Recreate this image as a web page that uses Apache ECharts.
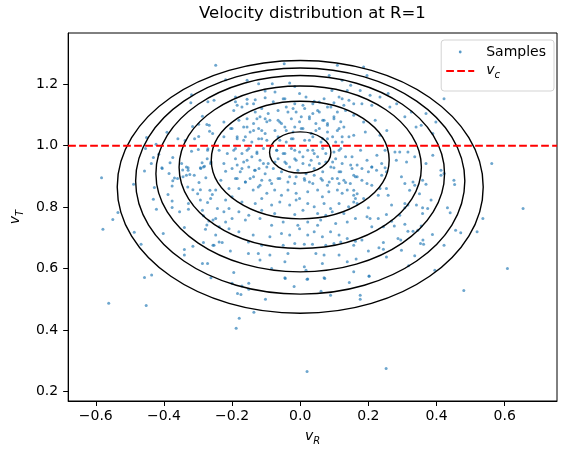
<!DOCTYPE html>
<html>
<head>
<meta charset="utf-8">
<script src="https://cdn.jsdelivr.net/npm/echarts@6/dist/echarts.min.js"></script>
<style>
html,body{margin:0;padding:0;background:#fff;}
#chart{width:567px;height:455px;}
</style>
</head>
<body>
<div id="chart"></div>
<script>
// ---- data ----
const titleText = 'Velocity distribution at R=1';
const xRange = [-0.681, 0.7535];
const yRange = [0.169, 1.367];
const xTicks = [-0.6, -0.4, -0.2, 0.0, 0.2, 0.4, 0.6];
const yTicks = [0.2, 0.4, 0.6, 0.8, 1.0, 1.2];
const circularVelocity = 1.0;

// contour levels approximated as ellipses: centre vR, centre vT, half-width, half-height
const contourCentreVR = [0, 0, 0, 0, 0, 0];
const contourCentreVT = [0.978, 0.9535, 0.930, 0.909, 0.885, 0.866];
const contourHalfWidth = [0.090, 0.261, 0.3555, 0.4235, 0.483, 0.537];
const contourHalfHeight = [0.067, 0.1915, 0.2645, 0.3195, 0.368, 0.4115];

// sample points [vR, vT]
const samples = [
[-0.319,1.166],[-0.321,1.140],[-0.271,1.143],[-0.287,1.096],[-0.274,1.069],[-0.316,1.063],[-0.266,1.047],[-0.298,1.070],
[-0.391,1.044],[-0.451,1.027],[-0.359,1.023],[-0.338,1.017],[-0.310,1.023],[-0.298,1.030],[-0.423,1.005],[-0.454,0.991],
[-0.319,0.982],[-0.299,0.988],[-0.271,0.990],[-0.415,0.972],[-0.431,0.962],[-0.374,0.962],[-0.382,0.945],[-0.437,0.942],
[-0.406,0.928],[-0.348,0.942],[-0.329,0.928],[-0.288,0.945],[-0.273,0.958],[-0.281,0.933],[-0.263,0.942],[-0.292,0.926],
[-0.248,1.262],[-0.047,1.267],[0.109,1.262],[-0.156,1.213],[-0.219,1.215],[-0.082,1.202],[-0.031,1.204],[-0.016,1.193],
[0.085,1.229],[0.093,1.180],[0.123,1.213],[0.138,1.180],[-0.122,1.202],[-0.190,1.159],[-0.253,1.148],[-0.074,1.175],
[-0.103,1.178],[-0.002,1.170],[-0.045,1.153],[0.037,1.137],[0.056,1.142],[0.114,1.159],[0.143,1.148],[-0.156,1.137],
[-0.132,1.150],[-0.185,1.132],[-0.021,1.121],[-0.036,1.110],[0.008,1.132],[0.056,1.110],[0.090,1.126],[0.133,1.115],
[-0.127,1.088],[-0.103,1.088],[-0.089,1.083],[-0.060,1.077],[0.003,1.094],[0.027,1.094],[0.066,1.083],[0.080,1.072],
[0.099,1.088],[0.114,1.056],[-0.224,1.077],[-0.204,1.056],[-0.156,1.061],[-0.137,1.050],[-0.113,1.050],[-0.041,1.050],
[-0.016,1.061],[0.008,1.056],[0.046,1.050],[-0.267,1.067],[-0.257,1.040],[-0.224,1.029],[-0.185,1.029],[-0.166,1.018],
[-0.113,1.023],[-0.060,1.018],[-0.026,1.023],[0.027,1.018],[0.066,1.023],[0.095,1.029],[0.123,1.012],[0.143,1.029],
[-0.272,0.985],[-0.238,0.985],[-0.214,0.975],[-0.190,0.991],[-0.156,0.985],[-0.127,0.975],[-0.069,0.985],[-0.045,0.975],
[-0.016,0.985],[0.008,0.964],[0.037,0.985],[0.075,0.975],[0.114,0.985],[0.133,0.964],[-0.262,0.947],[-0.224,0.942],
[-0.185,0.937],[-0.156,0.953],[-0.108,0.942],[-0.074,0.947],[-0.041,0.942],[-0.012,0.953],[0.027,0.937],[0.056,0.942],
[0.095,0.947],[0.148,0.937],
[0.186,1.256],[0.196,1.229],[0.148,1.197],[0.176,1.180],[0.205,1.164],[0.234,1.159],[0.258,1.170],[0.157,1.137],
[0.181,1.137],[0.210,1.132],[0.263,1.126],[0.283,1.137],[0.307,1.094],[0.326,1.110],[0.422,1.153],[0.157,1.099],
[0.186,1.077],[0.220,1.083],[0.254,1.050],[0.355,1.067],[0.369,1.105],[0.340,1.061],[0.398,1.077],[0.157,1.034],
[0.191,1.045],[0.234,1.034],[0.389,1.040],[0.278,0.980],[0.292,0.980],[0.316,0.980],[0.336,0.964],[0.389,0.969],
[0.369,0.942],[0.312,0.947],[0.282,0.953],[0.562,0.942],[0.152,0.964],[0.177,0.985],[0.196,0.953],[0.225,0.969],
[0.239,0.942],[0.167,0.937],[0.210,0.931],[0.249,0.985],
[-0.583,0.896],[-0.457,0.918],[-0.405,0.926],[-0.489,0.875],[-0.428,0.864],[-0.431,0.826],[-0.422,0.793],[-0.535,0.783],
[-0.550,0.760],[-0.579,0.728],[-0.487,0.718],[-0.467,0.679],[-0.402,0.714],[-0.457,0.571],[-0.436,0.579],[-0.385,0.910],
[-0.369,0.895],[-0.374,0.886],[-0.360,0.893],[-0.344,0.899],[-0.376,0.869],[-0.388,0.841],[-0.376,0.820],[-0.376,0.799],
[-0.354,0.785],[-0.345,0.921],[-0.334,0.931],[-0.329,0.920],[-0.334,0.904],[-0.324,0.906],[-0.311,0.904],[-0.293,0.928],
[-0.284,0.931],[-0.277,0.896],[-0.297,0.880],[-0.330,0.866],[-0.315,0.857],[-0.293,0.857],[-0.301,0.844],[-0.265,0.855],
[-0.293,0.823],[-0.272,0.815],[-0.328,0.812],[-0.328,0.793],[-0.287,0.790],[-0.284,0.772],[-0.256,0.758],[-0.268,0.755],
[-0.274,0.742],[-0.278,0.728],[-0.340,0.734],[-0.284,0.685],[-0.256,0.676],[-0.315,0.673],[-0.340,0.662],[-0.340,0.644],
[-0.287,0.617],[-0.272,0.617],[-0.262,0.570],[-0.258,0.841],
[-0.219,0.917],[-0.171,0.926],[-0.134,0.920],[-0.121,0.926],[-0.098,0.931],[0.099,0.928],[0.119,0.915],[0.152,0.926],
[-0.233,0.888],[-0.190,0.893],[-0.161,0.882],[-0.147,0.893],[-0.118,0.871],[-0.089,0.888],[-0.065,0.893],[-0.031,0.899],
[-0.016,0.877],[0.012,0.893],[0.027,0.882],[0.041,0.904],[0.065,0.888],[0.080,0.871],[0.094,0.893],[0.114,0.877],
[0.128,0.888],[0.147,0.877],[0.162,0.899],[-0.209,0.861],[-0.180,0.861],[-0.138,0.856],[-0.123,0.866],[-0.098,0.845],
[-0.075,0.856],[-0.055,0.839],[-0.036,0.856],[-0.012,0.845],[-0.002,0.828],[0.022,0.850],[0.051,0.856],[0.065,0.834],
[0.084,0.850],[0.109,0.856],[0.123,0.845],[0.138,0.856],[0.157,0.839],[-0.248,0.856],[-0.263,0.828],[-0.219,0.823],
[-0.200,0.834],[-0.171,0.817],[-0.132,0.812],[-0.113,0.828],[-0.084,0.807],[-0.060,0.817],[-0.031,0.807],[-0.012,0.823],
[0.022,0.812],[0.041,0.801],[0.070,0.812],[0.089,0.796],[0.114,0.812],[0.142,0.801],[0.157,0.817],[-0.243,0.796],
[-0.224,0.785],[-0.209,0.796],[-0.180,0.785],[-0.151,0.774],[-0.113,0.790],[-0.075,0.779],[-0.016,0.776],[0.008,0.790],
[0.051,0.779],[0.075,0.774],[0.094,0.785],[0.128,0.779],[-0.248,0.763],[-0.219,0.752],[-0.200,0.763],[-0.161,0.758],
[-0.118,0.763],[-0.084,0.741],[-0.050,0.752],[-0.007,0.741],[0.022,0.752],[0.051,0.741],[0.060,0.758],[0.104,0.747],
[0.138,0.752],[0.162,0.763],[-0.238,0.736],[-0.209,0.730],[-0.180,0.720],[-0.138,0.709],[-0.089,0.704],[-0.055,0.714],
[-0.031,0.709],[-0.002,0.730],[0.022,0.709],[0.041,0.720],[0.065,0.704],[0.089,0.720],[0.114,0.709],[0.138,0.698],
[-0.248,0.709],[-0.238,0.687],[-0.229,0.685],[-0.152,0.687],[-0.113,0.676],[-0.050,0.676],[-0.016,0.682],[0.012,0.679],
[0.036,0.679],[0.075,0.676],[0.099,0.682],[0.119,0.687],[0.157,0.676],[-0.253,0.676],[-0.205,0.657],[-0.152,0.649],
[-0.123,0.649],[-0.089,0.644],[-0.036,0.649],[0.046,0.649],[0.070,0.644],[0.114,0.644],[-0.118,0.628],[-0.045,0.622],
[-0.084,0.600],[0.012,0.606],[0.017,0.595],[0.065,0.617],[0.138,0.622],[-0.195,0.587],[-0.045,0.570],[0.022,0.566],
[0.070,0.570],[0.157,0.590],
[0.157,0.904],[0.167,0.899],[0.181,0.926],[0.200,0.915],[0.210,0.931],[0.224,0.920],[0.239,0.904],[0.249,0.928],
[0.253,0.915],[0.297,0.899],[0.307,0.877],[0.331,0.882],[0.336,0.871],[0.359,0.888],[0.369,0.875],[0.413,0.920],
[0.413,0.904],[0.422,0.910],[0.451,0.888],[0.453,0.874],[0.181,0.888],[0.196,0.877],[0.210,0.871],[0.234,0.861],
[0.253,0.861],[0.157,0.855],[0.167,0.844],[0.162,0.828],[0.186,0.828],[0.229,0.839],[0.258,0.839],[0.321,0.855],
[0.350,0.844],[0.384,0.823],[0.167,0.812],[0.200,0.798],[0.268,0.807],[0.307,0.812],[0.316,0.807],[0.307,0.798],
[0.341,0.807],[0.359,0.798],[0.374,0.796],[0.432,0.798],[0.440,0.782],[0.654,0.796],[0.196,0.769],[0.205,0.763],
[0.229,0.763],[0.253,0.776],[0.268,0.754],[0.292,0.774],[0.359,0.779],[0.210,0.736],[0.244,0.736],[0.276,0.739],
[0.307,0.744],[0.316,0.722],[0.331,0.722],[0.345,0.725],[0.355,0.739],[0.388,0.711],[0.456,0.725],[0.471,0.717],
[0.519,0.720],[0.536,0.763],[0.162,0.689],[0.181,0.693],[0.244,0.685],[0.287,0.698],[0.295,0.693],[0.353,0.682],
[0.362,0.679],[0.360,0.693],[0.422,0.676],[0.200,0.657],[0.231,0.668],[0.244,0.663],[0.297,0.660],[0.253,0.638],
[0.336,0.642],[0.164,0.631],[0.318,0.609],[0.395,0.595],[0.608,0.600],[0.202,0.576],
[-0.562,0.487],[-0.452,0.480],[-0.200,0.552],[-0.171,0.543],[-0.151,0.552],[-0.184,0.519],[-0.174,0.516],[-0.151,0.533],
[-0.102,0.500],[-0.136,0.458],[-0.179,0.438],[-0.188,0.406],[-0.044,0.568],[-0.018,0.542],[0.020,0.565],[0.020,0.265],
[0.072,0.568],[0.144,0.555],[0.202,0.575],[0.061,0.526],[0.089,0.513],[0.176,0.513],[0.176,0.500],[0.480,0.529],
[0.252,0.275],
[-0.190,1.143],[-0.156,1.151],[-0.137,1.137],[-0.103,1.156],[-0.079,1.143],[-0.050,1.153],[-0.016,1.137],[0.017,1.159],
[0.041,1.145],[0.070,1.153],[0.099,1.140],[0.123,1.153],[0.128,1.132],[-0.195,1.115],[-0.171,1.126],[-0.132,1.110],
[-0.113,1.121],[-0.094,1.105],[-0.065,1.115],[-0.041,1.126],[-0.012,1.110],[0.013,1.121],[0.037,1.105],[0.051,1.115],
[0.080,1.126],[0.109,1.110],[-0.180,1.083],[-0.156,1.088],[-0.137,1.072],[-0.118,1.094],[-0.098,1.078],[-0.065,1.083],
[-0.055,1.072],[-0.026,1.088],[-0.002,1.078],[0.027,1.088],[0.046,1.072],[0.070,1.083],[0.080,1.067],[0.099,1.094],
[0.119,1.078],[-0.200,1.056],[-0.166,1.061],[-0.147,1.045],[-0.122,1.056],[-0.103,1.040],[-0.074,1.050],[-0.045,1.061],
[-0.021,1.045],[0.003,1.056],[0.032,1.040],[0.056,1.056],[0.080,1.045],[0.109,1.050],[0.128,1.061],[-0.185,1.023],
[-0.161,1.029],[-0.142,1.012],[-0.122,1.023],[-0.098,1.018],[-0.065,1.029],[-0.041,1.012],[-0.021,1.023],[0.013,1.018],
[0.037,1.029],[0.061,1.012],[0.080,1.023],[0.104,1.012],[0.123,1.029],[-0.195,0.985],[-0.171,0.975],[-0.151,0.991],
[-0.127,0.980],[-0.108,0.991],[-0.069,0.985],[-0.050,0.975],[-0.026,0.991],[-0.002,0.980],[0.022,0.985],[0.041,0.975],
[0.066,0.991],[0.099,0.980],[0.119,0.991],[-0.190,0.958],[-0.166,0.947],[-0.142,0.964],[-0.118,0.953],[-0.094,0.942],
[-0.065,0.958],[-0.045,0.947],[-0.016,0.958],[0.008,0.942],[0.032,0.953],[0.051,0.964],[0.075,0.947],[0.104,0.958],
[0.123,0.942],[-0.200,0.926],[-0.176,0.915],[-0.151,0.931],[-0.132,0.920],[-0.103,0.909],[-0.079,0.926],[-0.055,0.915],
[-0.031,0.931],[-0.007,0.920],[0.017,0.909],[0.041,0.926],[0.066,0.915],[0.090,0.931],[0.114,0.915],[-0.185,0.893],
[-0.161,0.882],[-0.137,0.899],[-0.113,0.888],[-0.084,0.877],[-0.060,0.893],[-0.036,0.882],[-0.012,0.899],[0.013,0.888],
[0.037,0.877],[0.061,0.893],[0.085,0.882],[0.109,0.893],[0.133,0.880]
];

// ---- chart ----
const FONT = 'DejaVu Sans';
const contourData = contourCentreVT.map((cy, i) =>
  [contourCentreVR[i], cy, contourHalfWidth[i], contourHalfHeight[i]]);
const fmt = v => (Math.round(v * 10) / 10).toFixed(1).replace('-', '\u2212');
const subRich = {
  v: {fontFamily: FONT, fontStyle: 'italic', fontSize: 14, color: '#000', lineHeight: 18, verticalAlign: 'bottom', padding: [0, 0, 3, 0]},
  s: {fontFamily: FONT, fontStyle: 'italic', fontSize: 10, color: '#000', lineHeight: 18, verticalAlign: 'bottom'}
};

const chart = echarts.init(document.getElementById('chart'), null, {renderer: 'canvas'});
chart.setOption({
  animation: false,
  backgroundColor: '#fff',
  title: {
    text: titleText,
    left: 194, top: 0,
    textStyle: {fontFamily: FONT, fontSize: 16.5, fontWeight: 'normal', color: '#000'}
  },
  grid: {left: 62, right: 10, top: 33, bottom: 54, show: true, borderColor: '#000', borderWidth: 1, backgroundColor: 'transparent'},
  legend: {
    orient: 'vertical', right: 13, top: 40,
    padding: [5, 8, 11, 5], itemGap: 4, itemWidth: 28, itemHeight: 14,
    selectedMode: false,
    borderColor: '#d3d3d3', borderWidth: 1, borderRadius: 3,
    backgroundColor: 'rgba(255,255,255,0.8)',
    textStyle: {fontFamily: FONT, fontSize: 14, color: '#000', padding: [0, 0, 0, 7], rich: subRich},
    formatter: name => name === 'v_c' ? '{v|v}{s|c}' : name,
    data: [
      {name: 'Samples', icon: 'path://M0,0M28,0M28,14M0,14M12.6,7a1.4,1.4 0 1,0 2.8,0a1.4,1.4 0 1,0 -2.8,0z',
       itemStyle: {color: '#1f77b4', opacity: 0.75}},
      {name: 'v_c', icon: 'path://M0,0M28,0M28,14M0,14M0,6L7.7,6L7.7,8L0,8ZM11,6L18.7,6L18.7,8L11,8ZM22,6L28,6L28,8L22,8Z',
       itemStyle: {color: '#ff0000'}}
    ]
  },
  xAxis: {
    type: 'value', min: xRange[0], max: xRange[1],
    name: '{v|v}{s|R}', nameLocation: 'middle', nameGap: 27,
    nameTextStyle: {rich: subRich},
    axisLine: {show: true, onZero: false, lineStyle: {color: '#000', width: 1}},
    axisTick: {show: true, length: 5, customValues: xTicks, lineStyle: {color: '#000', width: 1}},
    axisLabel: {customValues: xTicks, formatter: fmt, fontFamily: FONT, fontSize: 14, color: '#000', margin: 8},
    splitLine: {show: false}
  },
  yAxis: {
    type: 'value', min: yRange[0], max: yRange[1],
    name: '{v|v}{s|T}', nameLocation: 'middle', nameGap: 36,
    nameTextStyle: {rich: subRich},
    axisLine: {show: true, onZero: false, lineStyle: {color: '#000', width: 1}},
    axisTick: {show: true, length: 5, customValues: yTicks, lineStyle: {color: '#000', width: 1}},
    axisLabel: {customValues: yTicks, formatter: fmt, fontFamily: FONT, fontSize: 14, color: '#000', margin: 10},
    splitLine: {show: false}
  },
  series: [
    {
      name: 'Samples', type: 'scatter', data: samples, symbol: 'circle', symbolSize: 3,
      itemStyle: {color: '#1f77b4', opacity: 0.65}, silent: true, z: 2
    },
    {
      name: 'contours', type: 'custom', data: contourData, silent: true, z: 3, clip: true,
      encode: {x: 0, y: 1},
      renderItem: (params, api) => {
        const c = api.coord([api.value(0), api.value(1)]);
        const s = api.size([api.value(2), api.value(3)]);
        return {
          type: 'ellipse',
          shape: {cx: c[0], cy: c[1], rx: s[0], ry: s[1]},
          style: {fill: 'none', stroke: '#000', lineWidth: 1.4}
        };
      }
    },
    {
      name: 'v_c', type: 'line', data: [[xRange[0], circularVelocity], [xRange[1], circularVelocity]],
      symbol: 'none', silent: true, z: 4,
      itemStyle: {color: '#ff0000'},
      lineStyle: {color: '#ff0000', width: 2, type: [7.7, 3.3]}
    }
  ]
});
</script>
</body>
</html>
